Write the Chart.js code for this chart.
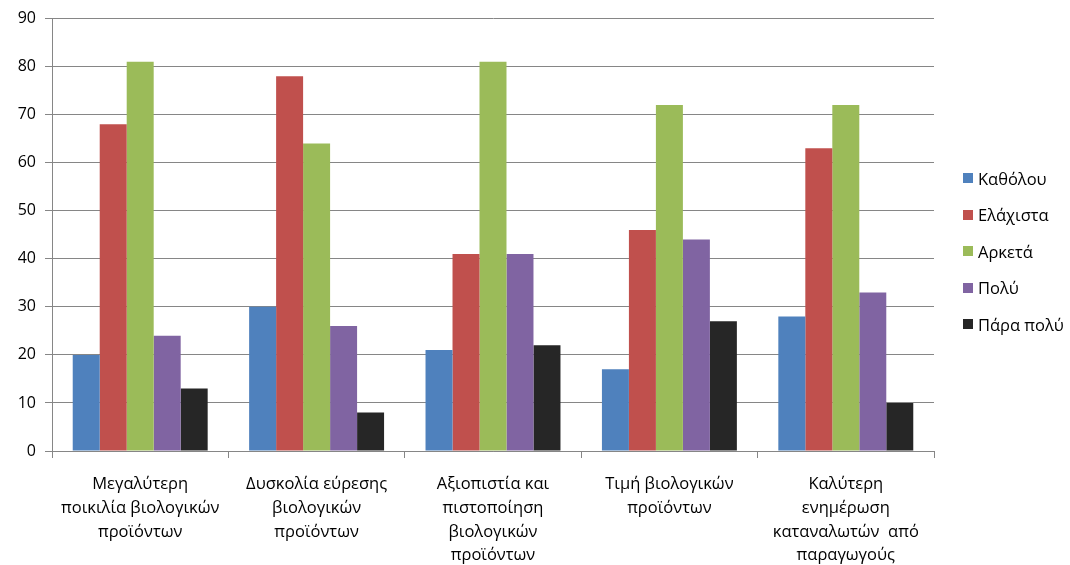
<!DOCTYPE html>
<html>
<head>
<meta charset="utf-8">
<script src="https://cdn.jsdelivr.net/npm/chart.js@4"></script>
<style>
  html, body { margin: 0; padding: 0; background: #fff; }
  #wrap { position: relative; width: 1070px; height: 565px; }
  #legend { position: absolute; left: 963px; top: 160px; font-family: 'Open Sans', sans-serif; font-size: 16.5px; color: #000; }
  #legend div { height: 36.5px; display: flex; align-items: center; white-space: nowrap; }
  #legend span.box { width: 10px; height: 10px; margin-right: 5px; display: inline-block; }
</style>
</head>
<body>
<div id="wrap">
  <canvas id="chart" width="1070" height="565"></canvas>
  <div id="legend"></div>
</div>
<script>
const categories = [
  ['Μεγαλύτερη', 'ποικιλία βιολογικών', 'προϊόντων'],
  ['Δυσκολία εύρεσης', 'βιολογικών', 'προϊόντων'],
  ['Αξιοπιστία και', 'πιστοποίηση', 'βιολογικών', 'προϊόντων'],
  ['Τιμή βιολογικών', 'προϊόντων'],
  ['Καλύτερη', 'ενημέρωση', 'καταναλωτών  από', 'παραγωγούς'],
];
const seriesNames = ['Καθόλου', 'Ελάχιστα', 'Αρκετά', 'Πολύ', 'Πάρα πολύ'];
const seriesColors = ['#4F81BD', '#C0504D', '#9BBB59', '#8064A2', '#262626'];
const katholou = [20, 30, 21, 17, 28];
const elaxista = [68, 78, 41, 46, 63];
const arketa = [81, 64, 81, 72, 72];
const poly = [24, 26, 41, 44, 33];
const paraPoly = [13, 8, 22, 27, 10];
const yTicks = [0, 10, 20, 30, 40, 50, 60, 70, 80, 90];

const seriesValues = [katholou, elaxista, arketa, poly, paraPoly];

const datasets = seriesNames.map((name, i) => ({
  label: name,
  data: seriesValues[i],
  backgroundColor: seriesColors[i],
  borderWidth: 0,
}));

new Chart(document.getElementById('chart'), {
  type: 'bar',
  data: { labels: categories, datasets },
  options: {
    responsive: false,
    animation: false,
    categoryPercentage: 0.765,
    barPercentage: 1,
    layout: { padding: { top: 10, right: 136, left: 0, bottom: 0 } },
    scales: {
      x: {
        grid: { offset: true, drawOnChartArea: false, tickLength: 7, color: '#868686' },
        border: { color: '#868686', width: 1 },
        ticks: {
          color: '#000',
          font: { family: "'Open Sans', sans-serif", size: 16.5, lineHeight: 1.45 },
          padding: 14,
          maxRotation: 0,
          autoSkip: false,
        },
        afterFit: (s) => { s.height = 114; },
      },
      y: {
        min: 0,
        max: 90,
        afterBuildTicks: (s) => { s.ticks = yTicks.map(v => ({ value: v })); },
        grid: { color: '#868686', tickLength: 7 },
        border: { color: '#868686', width: 1 },
        ticks: { color: '#000', font: { family: "'Open Sans', sans-serif", size: 16 }, padding: 9 },
        afterFit: (s) => { s.width = 52; },
      },
    },
    plugins: {
      legend: { display: false },
      tooltip: { enabled: false },
    },
  },
});

// Legend drawn beside the plot
const legend = document.getElementById('legend');
seriesNames.forEach((name, i) => {
  const row = document.createElement('div');
  row.innerHTML = `<span class="box" style="background:${seriesColors[i]}"></span>${name}`;
  legend.appendChild(row);
});
</script>
</body>
</html>
